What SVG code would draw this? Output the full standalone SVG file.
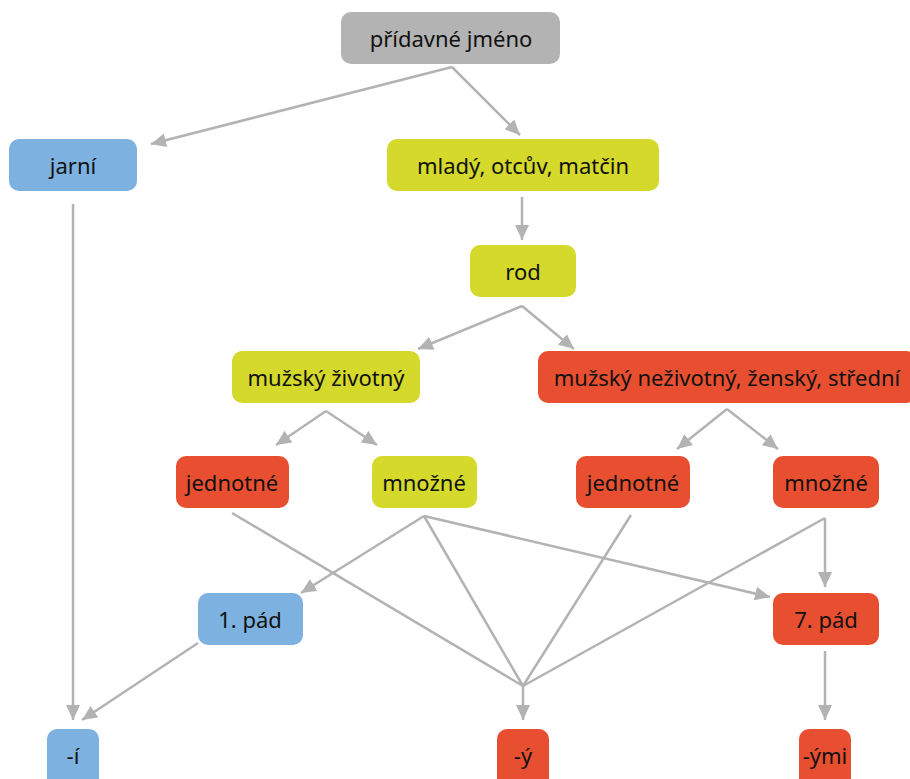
<svg xmlns="http://www.w3.org/2000/svg" width="910" height="779" viewBox="0 0 910 779">
<style>
.n rect{rx:10px;ry:10px}
.g rect{fill:#b3b3b3}
.b rect{fill:#7db1e0}
.y rect{fill:#d4d92b}
.r rect{fill:#e84f30}
text{font-family:"Noto Sans","DejaVu Sans",sans-serif;font-size:22px;fill:#111;text-anchor:middle;dominant-baseline:central}
#edges line,#edges polyline{stroke:#b3b3b3;stroke-width:2.5;fill:none}
</style>
<defs>
<marker id="ah" markerUnits="userSpaceOnUse" markerWidth="16" markerHeight="14" refX="15" refY="7" orient="auto">
<path d="M0,0 L15,7 L0,14 z" fill="#b3b3b3"/>
</marker>
</defs>
<rect width="910" height="779" fill="#fff"/>
<g id="edges">
<line x1="452" y1="67" x2="151" y2="144" marker-end="url(#ah)"/>
<line x1="452" y1="67" x2="520" y2="135" marker-end="url(#ah)"/>
<line x1="522" y1="197" x2="522" y2="240" marker-end="url(#ah)"/>
<line x1="522" y1="306" x2="418" y2="349" marker-end="url(#ah)"/>
<line x1="522" y1="306" x2="574" y2="349" marker-end="url(#ah)"/>
<line x1="326" y1="411" x2="276" y2="445" marker-end="url(#ah)"/>
<line x1="326" y1="411" x2="377" y2="445" marker-end="url(#ah)"/>
<line x1="727" y1="409" x2="677" y2="449" marker-end="url(#ah)"/>
<line x1="727" y1="409" x2="778" y2="449" marker-end="url(#ah)"/>
<line x1="73" y1="204" x2="73" y2="720" marker-end="url(#ah)"/>
<line x1="198" y1="643" x2="82" y2="720" marker-end="url(#ah)"/>
<line x1="424" y1="516" x2="301" y2="593" marker-end="url(#ah)"/>
<line x1="424" y1="516" x2="770" y2="597" marker-end="url(#ah)"/>
<line x1="825" y1="518" x2="825" y2="587" marker-end="url(#ah)"/>
<line x1="825" y1="651" x2="825" y2="720" marker-end="url(#ah)"/>
<polyline points="232,513 523,686"/>
<polyline points="424,516 523,686"/>
<polyline points="631,515 523,686"/>
<polyline points="825,518 523,686"/>
<line x1="523" y1="686" x2="523" y2="720" marker-end="url(#ah)"/>
</g>
<g id="n_pridavne" class="n g"><rect x="341" y="12" width="219" height="52"/><text x="451" y="38">přídavné jméno</text></g>
<g id="n_jarni" class="n b"><rect x="9" y="139" width="128" height="52"/><text x="73" y="165">jarní</text></g>
<g id="n_mlady" class="n y"><rect x="387" y="139" width="272" height="52"/><text x="523" y="165">mladý, otcův, matčin</text></g>
<g id="n_rod" class="n y"><rect x="470" y="245" width="106" height="52"/><text x="523" y="271">rod</text></g>
<g id="n_muzzivotny" class="n y"><rect x="232" y="351" width="188" height="52"/><text x="326" y="377">mužský životný</text></g>
<g id="n_ostatni" class="n r"><rect x="538" y="351" width="378" height="52"/><text x="727" y="377">mužský neživotný, ženský, střední</text></g>
<g id="n_jedn1" class="n r"><rect x="176" y="456" width="113" height="52"/><text x="232" y="482">jednotné</text></g>
<g id="n_mnoz1" class="n y"><rect x="372" y="456" width="105" height="52"/><text x="424" y="482">množné</text></g>
<g id="n_jedn2" class="n r"><rect x="576" y="456" width="114" height="52"/><text x="633" y="482">jednotné</text></g>
<g id="n_mnoz2" class="n r"><rect x="773" y="456" width="106" height="52"/><text x="826" y="482">množné</text></g>
<g id="n_pad1" class="n b"><rect x="198" y="593" width="105" height="52"/><text x="250" y="619">1. pád</text></g>
<g id="n_pad7" class="n r"><rect x="773" y="593" width="106" height="52"/><text x="826" y="619">7. pád</text></g>
<g id="n_i" class="n b"><rect x="47" y="729" width="52" height="60"/><text x="73" y="755">-í</text></g>
<g id="n_y" class="n r"><rect x="497" y="729" width="52" height="60"/><text x="523" y="755">-ý</text></g>
<g id="n_ymi" class="n r"><rect x="799" y="729" width="52" height="60"/><text x="825" y="755">-ými</text></g>
</svg>
